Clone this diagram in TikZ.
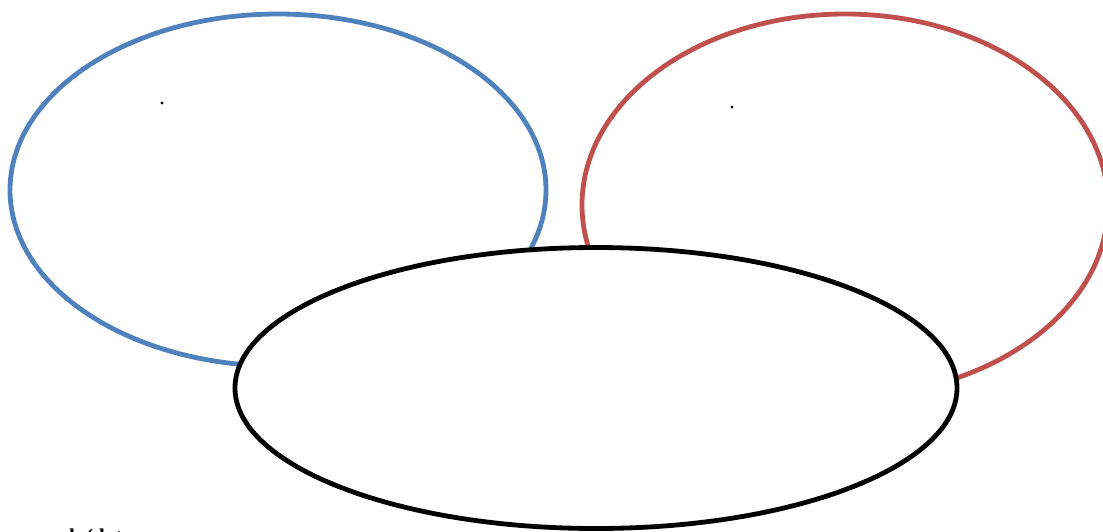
\documentclass[tikz,border=0pt]{standalone}
\usepackage{fontspec}
\setmainfont{Liberation Serif}
\usetikzlibrary{shapes.geometric}
\definecolor{setblue}{HTML}{4F81BD}
\definecolor{setred}{HTML}{C0504D}
\begin{document}
\begin{tikzpicture}[x=1pt,y=-1pt,
  setring/.style={ellipse,line width=4.8pt,inner sep=0pt,fill=white},
  dotmark/.style={circle,fill=black,inner sep=0pt,minimum size=3.2pt}]
\useasboundingbox (0,0) rectangle (1103,531);
\clip (0,0) rectangle (1103,531);
\node[setring,draw=setblue,minimum width=536pt,minimum height=352pt] (blue) at (278,190) {};
\node[setring,draw=setred,minimum width=526pt,minimum height=382pt] (red) at (845,205) {};
\node[setring,draw=black,minimum width=722pt,minimum height=281pt] (black) at (596,388) {};
\node[dotmark] (d1) at (162,103) {};
\node[dotmark] (d2) at (732,107) {};
\node[anchor=base west,inner sep=0pt,font=\bfseries\fontsize{21pt}{23pt}\selectfont] (lbl) at (34,543) {work (data};
\end{tikzpicture}
\end{document}
